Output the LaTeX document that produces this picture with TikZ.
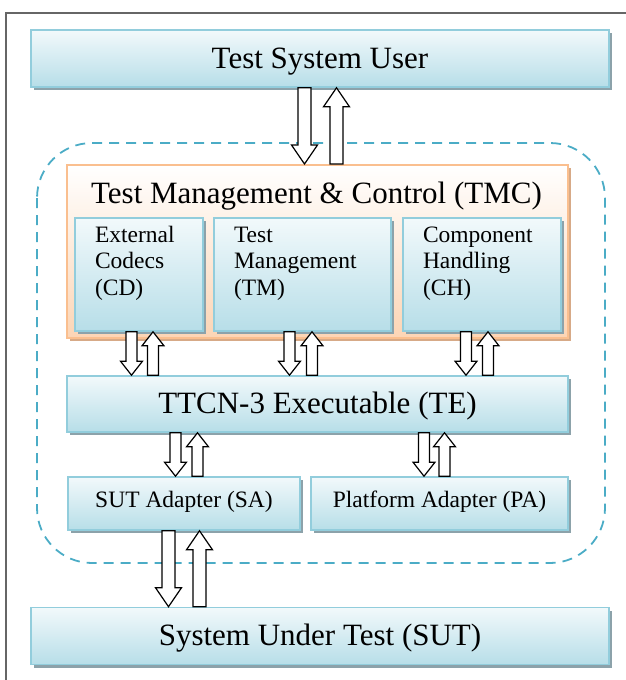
\documentclass[tikz,border=0pt]{standalone}
\usepackage{fontspec}
\setmainfont{Liberation Serif}
\usepackage{xcolor}
\definecolor{boxline}{RGB}{146,205,220}
\definecolor{boxtop}{RGB}{242,249,251}
\definecolor{boxbottom}{RGB}{183,222,232}
\definecolor{boxshade}{RGB}{140,162,170}
\definecolor{tmcline}{RGB}{250,191,143}
\definecolor{tmcbottom}{RGB}{252,213,181}
\definecolor{tmcshade}{RGB}{215,170,135}
\definecolor{dashcol}{RGB}{75,172,198}
\usepackage{tikz}
\usetikzlibrary{calc, shadows}

% block arrow sizes (small by default)
\newcommand{\arrsw}{5.5pt}
\newcommand{\arrhw}{11pt}
\newcommand{\arrhl}{14pt}

% hollow block arrows: x taken from #2, tip at the lower / upper end
\newcommand{\arrdown}[3][]{%
  \draw[barrow,#1] let \p1=(#2), \p2=(#3), \n1={max(\y1,\y2)}, \n2={min(\y1,\y2)} in
    (\x1-\arrsw,\n1+0pt) -- (\x1-\arrsw,\n2+\arrhl) -- (\x1-\arrhw,\n2+\arrhl) -- (\x1,\n2+0pt)
    -- (\x1+\arrhw,\n2+\arrhl) -- (\x1+\arrsw,\n2+\arrhl) -- (\x1+\arrsw,\n1+0pt) -- cycle;}
\newcommand{\arrup}[3][]{%
  \draw[barrow,#1] let \p1=(#2), \p2=(#3), \n1={max(\y1,\y2)}, \n2={min(\y1,\y2)} in
    (\x1-\arrsw,\n2+0pt) -- (\x1-\arrsw,\n1-\arrhl) -- (\x1-\arrhw,\n1-\arrhl) -- (\x1,\n1+0pt)
    -- (\x1+\arrhw,\n1-\arrhl) -- (\x1+\arrsw,\n1-\arrhl) -- (\x1+\arrsw,\n2+0pt) -- cycle;}

\begin{document}
\begin{tikzpicture}[
    x=1pt, y=-1pt,
    bigfont/.style={font=\fontsize{31}{36}\selectfont},
    smallfont/.style={font=\fontsize{23.5}{26.5}\selectfont},
    box/.style={draw=boxline, line width=1.6pt, top color=boxtop, bottom color=boxbottom,
      inner sep=0pt, drop shadow={shadow xshift=3pt, shadow yshift=-3pt, opacity=1, fill=boxshade}},
    bigbox/.style={box, bigfont, minimum width=578, minimum height=57, text height=22pt, text depth=3pt},
    widebox/.style={box, bigfont, minimum width=501, minimum height=56, text height=22pt, text depth=3pt},
    adapbox/.style={box, smallfont, minimum height=53, text height=16pt, text depth=9pt},
    subbox/.style={box, smallfont, minimum height=113, align=left, inner xsep=20pt,
      text height=16pt, text depth=81pt},
    tmcbox/.style={draw=tmcline, line width=2pt, top color=white, bottom color=tmcbottom,
      minimum width=501, minimum height=173,
      drop shadow={shadow xshift=3pt, shadow yshift=-3pt, opacity=1, fill=tmcshade}},
    barrow/.style={draw=black, fill=white, line width=1.2pt, line join=miter},
    bigarr/.code={\renewcommand{\arrsw}{6.5pt}\renewcommand{\arrhw}{13pt}\renewcommand{\arrhl}{19pt}},
    dashcont/.style={draw=dashcol, line width=1.8pt, dash pattern=on 10pt off 7pt}
  ]
  \useasboundingbox (0,0) rectangle (626,680);

  % Frame
  \draw[black!60, line width=1.3pt] (6,680) -- (6,13) -- (626,13);

  % Test system boundary
  \draw[dashcont, rounded corners=55] (37,143) rectangle (605,563);

  % Boxes
  \node[bigbox] (tsu) at (320,58.5) {Test System User};
  \node[tmcbox] (tmc) at (317.5,251.5) {};
  \node[bigfont, anchor=base] (tmctitle) at (316.5,203) {Test Management \& Control (TMC)};
  \node[subbox, minimum width=128, text width=88] (cd) at (139,274.5) {External\\Codecs\\(CD)};
  \node[subbox, minimum width=177, text width=137] (tm) at (302.5,274.5) {Test\\Management\\(TM)};
  \node[subbox, minimum width=158, text width=118] (ch) at (482,274.5) {Component\\Handling\\(CH)};
  \node[widebox] (te) at (317.5,404) {TTCN-3 Executable (TE)};
  \node[adapbox, minimum width=232] (sa) at (184,503.5) {SUT Adapter (SA)};
  \node[adapbox, minimum width=257] (pa) at (439.5,503.5) {Platform Adapter (PA)};
  \node[bigbox] (sut) at (320,636) {System Under Test (SUT)};

  % Arrows
  \arrdown[bigarr]{[xshift=-15.5]tsu.south}{tmc.north}
  \arrup[bigarr]{[xshift=16.5]tsu.south}{tmc.north}

  \arrdown{[xshift=-7.5]cd.south}{te.north}
  \arrup{[xshift=14]cd.south}{te.north}
  \arrdown{[xshift=-13]tm.south}{te.north}
  \arrup{[xshift=9.5]tm.south}{te.north}
  \arrdown{[xshift=-16]ch.south}{te.north}
  \arrup{[xshift=6]ch.south}{te.north}

  \arrdown{[xshift=-8.5]sa.north}{te.south}
  \arrup{[xshift=13.5]sa.north}{te.south}
  \arrdown{[xshift=-15.5]pa.north}{te.south}
  \arrup{[xshift=5]pa.north}{te.south}

  \arrdown[bigarr]{[xshift=-15.5]sa.south}{sut.north}
  \arrup[bigarr]{[xshift=15.5]sa.south}{sut.north}

\end{tikzpicture}
\end{document}
